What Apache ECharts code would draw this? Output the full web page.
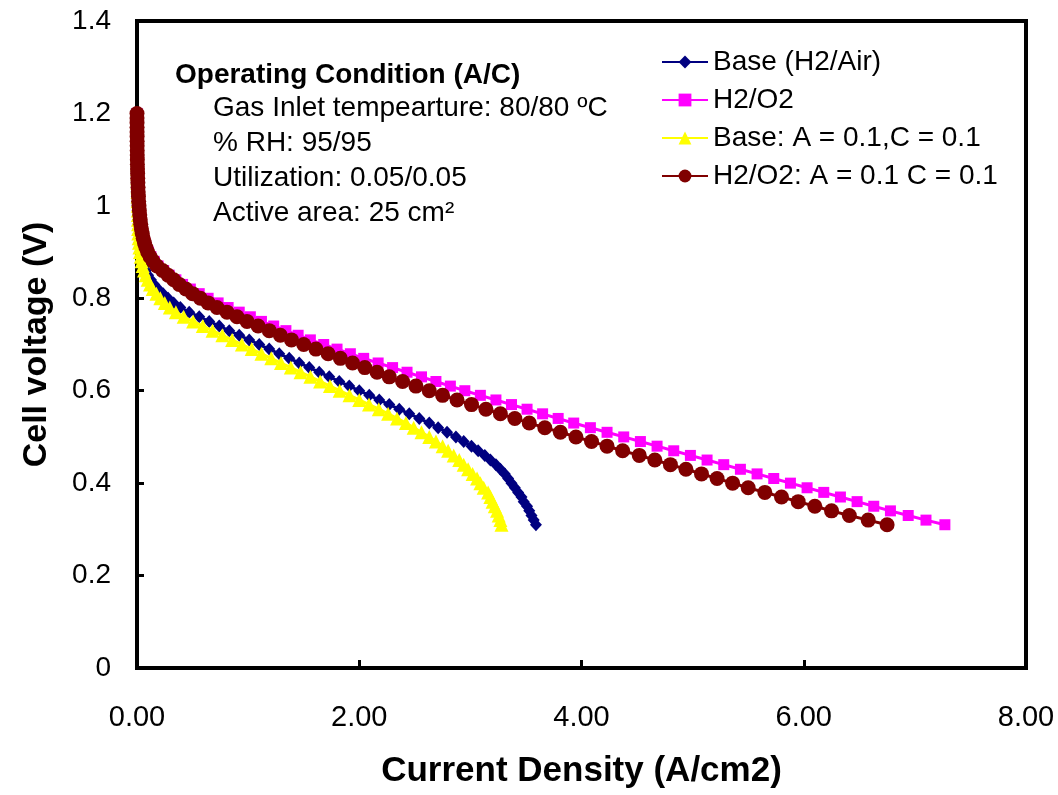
<!DOCTYPE html>
<html>
<head>
<meta charset="utf-8">
<script src="https://cdn.jsdelivr.net/npm/echarts@6/dist/echarts.min.js"></script>
<style>
  html, body { margin: 0; padding: 0; background: #fff; }
  #chart { width: 1058px; height: 795px; }
</style>
</head>
<body>
<div id="chart"></div>
<script>
// Cell voltage (V), shared by all four polarization curves
const voltage = [
  1.20, 1.19, 1.18, 1.17, 1.16, 1.15, 1.14, 1.13, 1.12, 1.11,
  1.10, 1.09, 1.08, 1.07, 1.06, 1.05, 1.04, 1.03, 1.02, 1.01,
  1.00, 0.99, 0.98, 0.97, 0.96, 0.95, 0.94, 0.93, 0.92, 0.91,
  0.90, 0.89, 0.88, 0.87, 0.86, 0.85, 0.84, 0.83, 0.82, 0.81,
  0.80, 0.79, 0.78, 0.77, 0.76, 0.75, 0.74, 0.73, 0.72, 0.71,
  0.70, 0.69, 0.68, 0.67, 0.66, 0.65, 0.64, 0.63, 0.62, 0.61,
  0.60, 0.59, 0.58, 0.57, 0.56, 0.55, 0.54, 0.53, 0.52, 0.51,
  0.50, 0.49, 0.48, 0.47, 0.46, 0.45, 0.44, 0.43, 0.42, 0.41,
  0.40, 0.39, 0.38, 0.37, 0.36, 0.35, 0.34, 0.33, 0.32, 0.31
];

// Current density (A/cm2) at each voltage above
const baseAir = [
  0, 0.0001, 0.0002, 0.0003, 0.0004, 0.0005, 0.0006, 0.0008, 0.001, 0.0012,
  0.0014, 0.0017, 0.002, 0.0024, 0.0028, 0.0033, 0.0038, 0.0044, 0.005, 0.0057,
  0.0065, 0.0074, 0.0084, 0.0095, 0.011, 0.013, 0.015, 0.018, 0.022, 0.027,
  0.033, 0.041, 0.051, 0.064, 0.080, 0.100, 0.125, 0.155, 0.19, 0.235,
  0.28, 0.33, 0.39, 0.47, 0.56, 0.65, 0.74, 0.83, 0.92, 1.01,
  1.10, 1.19, 1.28, 1.37, 1.46, 1.55, 1.64, 1.73, 1.82, 1.91,
  2.00, 2.09, 2.18, 2.27, 2.36, 2.45, 2.54, 2.63, 2.71, 2.79,
  2.87, 2.94, 3.01, 3.07, 3.13, 3.18, 3.23, 3.27, 3.31, 3.34,
  3.37, 3.40, 3.43, 3.46, 3.48, 3.51, 3.53, 3.55, 3.57, 3.59
];

const h2o2 = [
  0, 0.0002, 0.0004, 0.0006, 0.0008, 0.001, 0.0013, 0.0016, 0.002, 0.0025,
  0.003, 0.0037, 0.0045, 0.0055, 0.0067, 0.008, 0.0095, 0.011, 0.013, 0.015,
  0.018, 0.021, 0.025, 0.029, 0.034, 0.040, 0.048, 0.058, 0.070, 0.085,
  0.103, 0.125, 0.155, 0.19, 0.24, 0.29, 0.35, 0.41, 0.48, 0.56,
  0.64, 0.73, 0.82, 0.92, 1.02, 1.12, 1.23, 1.34, 1.45, 1.56,
  1.68, 1.80, 1.92, 2.04, 2.17, 2.30, 2.43, 2.56, 2.69, 2.82,
  2.95, 3.09, 3.23, 3.37, 3.51, 3.65, 3.79, 3.93, 4.08, 4.23,
  4.38, 4.53, 4.68, 4.83, 4.98, 5.13, 5.28, 5.43, 5.58, 5.73,
  5.88, 6.03, 6.18, 6.33, 6.48, 6.63, 6.78, 6.94, 7.10, 7.27
];

const baseAc = [
  0, 0.0001, 0.0002, 0.0003, 0.0004, 0.0005, 0.0006, 0.0007, 0.0009, 0.0011,
  0.0013, 0.0015, 0.0018, 0.0021, 0.0025, 0.0029, 0.0034, 0.0039, 0.0045, 0.0052,
  0.006, 0.0068, 0.0077, 0.0087, 0.0098, 0.010, 0.012, 0.015, 0.018, 0.022,
  0.027, 0.033, 0.041, 0.051, 0.063, 0.078, 0.096, 0.117, 0.142, 0.175,
  0.21, 0.25, 0.295, 0.35, 0.42, 0.505, 0.592, 0.68, 0.768, 0.856,
  0.944, 1.032, 1.12, 1.208, 1.296, 1.384, 1.472, 1.56, 1.648, 1.736,
  1.824, 1.912, 2.00, 2.088, 2.176, 2.26, 2.34, 2.42, 2.49, 2.56,
  2.63, 2.69, 2.75, 2.80, 2.85, 2.90, 2.94, 2.98, 3.02, 3.06,
  3.09, 3.12, 3.16, 3.18, 3.20, 3.22, 3.24, 3.255, 3.27, 3.28
];

const h2o2Ac = [
  0, 0.0002, 0.0004, 0.0006, 0.0008, 0.001, 0.0013, 0.0016, 0.002, 0.0025,
  0.003, 0.0037, 0.0045, 0.0055, 0.0067, 0.008, 0.0095, 0.011, 0.013, 0.015,
  0.018, 0.021, 0.025, 0.029, 0.034, 0.040, 0.047, 0.056, 0.067, 0.080,
  0.096, 0.118, 0.145, 0.18, 0.23, 0.28, 0.33, 0.38, 0.44, 0.50,
  0.57, 0.64, 0.72, 0.81, 0.90, 0.99, 1.09, 1.19, 1.29, 1.39,
  1.50, 1.61, 1.72, 1.83, 1.94, 2.05, 2.16, 2.27, 2.39, 2.51,
  2.63, 2.75, 2.88, 3.01, 3.14, 3.27, 3.40, 3.53, 3.67, 3.81,
  3.95, 4.09, 4.23, 4.37, 4.52, 4.66, 4.80, 4.94, 5.08, 5.22,
  5.36, 5.50, 5.65, 5.80, 5.95, 6.10, 6.25, 6.41, 6.58, 6.75
];

const seriesNames = [
  'Base (H2/Air)',
  'H2/O2',
  'Base: A = 0.1,C = 0.1',
  'H2/O2: A = 0.1 C = 0.1'
];

const xTickLabels = ['0.00', '2.00', '4.00', '6.00', '8.00'];
const yTickLabels = ['0', '0.2', '0.4', '0.6', '0.8', '1', '1.2', '1.4'];

const conditionTitle = 'Operating Condition (A/C)';
const conditionLines = [
  'Gas Inlet tempearture: 80/80 ºC',
  '% RH: 95/95',
  'Utilization: 0.05/0.05',
  'Active area: 25 cm²'
];

const FONT = '"Liberation Sans", Arial, Helvetica, sans-serif';

function pairs(currents) {
  return currents.map((c, i) => [c, voltage[i]]);
}

const styles = [
  { color: '#000080', symbol: 'diamond', size: [12, 13] },
  { color: '#FF00FF', symbol: 'rect', size: 11 },
  { color: '#FFFF00', symbol: 'triangle', size: 14 },
  { color: '#800000', symbol: 'circle', size: 15 }
];
const curves = [baseAir, h2o2, baseAc, h2o2Ac];

const series = curves.map((cur, k) => ({
  name: seriesNames[k],
  type: 'line',
  data: pairs(cur),
  symbol: styles[k].symbol,
  symbolSize: styles[k].size,
  showAllSymbol: true,
  lineStyle: { color: styles[k].color, width: 3 },
  itemStyle: { color: styles[k].color, borderWidth: 0 },
  emphasis: { disabled: true },
  z: 2 + k
}));

const graphics = [{
  type: 'text',
  x: 175, y: 75,
  style: {
    text: conditionTitle,
    font: 'bold 28px ' + FONT,
    fill: '#000',
    verticalAlign: 'middle'
  }
}].concat(conditionLines.map((t, i) => ({
  type: 'text',
  x: 213, y: 108 + i * 35,
  style: {
    text: t,
    font: '28px ' + FONT,
    fill: '#000',
    verticalAlign: 'middle'
  }
})));

const chart = echarts.init(document.getElementById('chart'));
chart.setOption({
  animation: false,
  backgroundColor: '#fff',
  grid: {
    left: 137, right: 32, top: 21, bottom: 127,
    show: true, borderColor: '#000', borderWidth: 4
  },
  legend: {
    orient: 'vertical',
    left: 656, top: 43,
    itemWidth: 46, itemHeight: 16, itemGap: 10,
    data: seriesNames,
    textStyle: { fontFamily: FONT, fontSize: 28, color: '#000' }
  },
  xAxis: {
    type: 'value',
    min: 0, max: 8, interval: 2,
    name: 'Current Density (A/cm2)',
    nameLocation: 'middle',
    nameGap: 86,
    nameTextStyle: { fontFamily: FONT, fontSize: 35, fontWeight: 'bold', color: '#000' },
    axisLine: { onZero: false, lineStyle: { color: '#000', width: 4 } },
    axisTick: { inside: true, length: 8, lineStyle: { color: '#000', width: 3 } },
    splitLine: { show: false },
    axisLabel: {
      fontFamily: FONT, fontSize: 29, color: '#000', margin: 35,
      formatter: v => xTickLabels[Math.round(v / 2)]
    }
  },
  yAxis: {
    type: 'value',
    min: 0, max: 1.4, interval: 0.2,
    name: 'Cell voltage (V)',
    nameLocation: 'middle',
    nameGap: 83,
    nameTextStyle: { fontFamily: FONT, fontSize: 34, fontWeight: 'bold', color: '#000' },
    axisLine: { onZero: false, lineStyle: { color: '#000', width: 4 } },
    axisTick: { inside: true, length: 7, lineStyle: { color: '#000', width: 3 } },
    splitLine: { show: false },
    axisLabel: {
      fontFamily: FONT, fontSize: 28, color: '#000', margin: 26,
      formatter: v => yTickLabels[Math.round(v / 0.2)]
    }
  },
  graphic: graphics,
  series: series
});
</script>
</body>
</html>
